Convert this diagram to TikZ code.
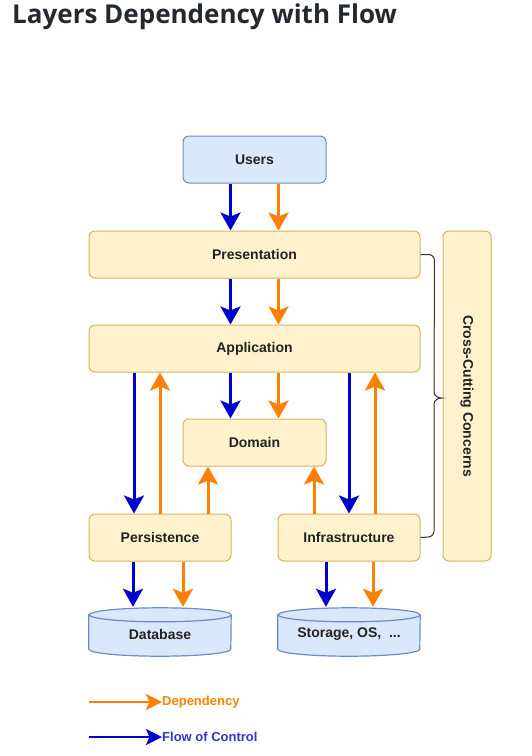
\documentclass[tikz,border=0pt]{standalone}
\usepackage{fontspec}
\setmainfont{Liberation Sans}
\newfontfamily\titlefont{Open Sans}
\usetikzlibrary{arrows.meta}
\definecolor{yfill}{HTML}{FFF2CC}
\definecolor{ydraw}{HTML}{D6B656}
\definecolor{bfill}{HTML}{DAE8FC}
\definecolor{bdraw}{HTML}{6C8EBF}
\definecolor{depcol}{HTML}{FF8000}
\definecolor{flowcol}{HTML}{0000CC}
\definecolor{flowtxt}{HTML}{3333CC}
\definecolor{txt}{HTML}{222222}
\definecolor{titlecol}{HTML}{24292F}
\begin{document}
\begin{tikzpicture}[x=1pt,y=-1pt,
  box/.style={draw=ydraw,fill=yfill,line width=1pt,rounded corners=6pt,
    inner sep=0pt,font=\fontsize{14}{16}\selectfont\bfseries,text=txt},
  userbox/.style={box,draw=bdraw,fill=bfill},
  cylslot/.style={inner sep=0pt,minimum width=142pt,minimum height=48pt},
  cyl/.style={draw=bdraw,fill=bfill,line width=1.2pt},
  dep/.style={draw=depcol,line width=3pt,-{Stealth[length=18pt,width=20pt,inset=4pt]}},
  flow/.style={draw=flowcol,line width=3pt,-{Stealth[length=18pt,width=20pt,inset=4pt]}},
  legdep/.style={draw=depcol,line width=2.5pt,-{Stealth[length=16pt,width=16pt,inset=3.5pt]}},
  legflow/.style={draw=flowcol,line width=2.5pt,-{Stealth[length=16pt,width=16pt,inset=3.5pt]}},
  brace/.style={draw=black!80,line width=1pt}]
\useasboundingbox (0,0) rectangle (531,756);

% title
\node[anchor=base west,inner sep=0pt,font=\titlefont\fontsize{26}{29}\selectfont\bfseries,text=titlecol]
  (title) at (12,23) {Layers Dependency with Flow};

% layer boxes
\node[userbox,minimum width=143pt,minimum height=47pt] (users) at (254.5,159.5) {Users};
\node[box,minimum width=331pt,minimum height=47pt] (pres) at (254.5,254.5) {Presentation};
\node[box,minimum width=331pt,minimum height=47pt] (app) at (254.5,348.5) {Application};
\node[box,minimum width=143pt,minimum height=47pt] (dom) at (254.5,442.5) {Domain};
\node[box,minimum width=142pt,minimum height=47pt] (pers) at (160,537.5) {Persistence};
\node[box,minimum width=142pt,minimum height=47pt] (infra) at (349,537.5) {Infrastructure};
\node[box,minimum width=48pt,minimum height=330pt] (cross) at (467,396) {};
\node[rotate=-90,inner sep=0pt,font=\fontsize{14}{16}\selectfont\bfseries,text=txt] (crosstext) at (cross.center) {Cross-Cutting Concerns};

% storage cylinders
\node[cylslot] (db) at (160,632) {};
\node[cylslot] (store) at (349,632) {};
\foreach \c in {db,store}{
  \draw[cyl] ([yshift=-7pt]\c.north west) -- ([yshift=7pt]\c.south west)
    arc[start angle=180,end angle=360,x radius=71pt,y radius=7pt]
    -- ([yshift=-7pt]\c.north east)
    arc[start angle=0,end angle=180,x radius=71pt,y radius=7pt] -- cycle;
  \draw[cyl,fill=none] ([yshift=-7pt]\c.north east)
    arc[start angle=0,end angle=-180,x radius=71pt,y radius=7pt];
}
\node[inner sep=0pt,font=\fontsize{14}{16}\selectfont\bfseries,text=txt] (dbtext) at ([yshift=-2pt]db.center) {Database};
\node[inner sep=0pt,font=\fontsize{14}{16}\selectfont\bfseries,text=txt] (storetext) at ([yshift=-2pt]store.center) {Storage, OS,~~...};

% brace grouping the layers
\coordinate (bt) at (pres.east);
\coordinate (bb) at (infra.east);
\draw[brace] (bt) -- ++(8,0) to[out=0,in=90] ++(6,6) -- (434,392)
  to[out=-90,in=180] (442,398) to[out=180,in=90] (434,404)
  -- (434,531) to[out=-90,in=0] ++(-6,6) -- (bb);

% users -> presentation -> application -> domain
\foreach \a/\b in {users/pres,pres/app,app/dom}{
  \draw[flow] ([xshift=-24pt]\a.south) -- ([xshift=-24pt]\b.north);
  \draw[dep]  ([xshift=24pt]\a.south) -- ([xshift=24pt]\b.north);
}

% application <-> persistence / infrastructure
\coordinate (p1) at ([xshift=-26pt]pers.north);
\coordinate (p2) at (pers.north);
\coordinate (p3) at ([xshift=48pt]pers.north);
\coordinate (i1) at ([xshift=-35pt]infra.north);
\coordinate (i2) at (infra.north);
\coordinate (i3) at ([xshift=26pt]infra.north);
\draw[flow] (p1 |- app.south) -- (p1);
\draw[dep] (p2) -- (p2 |- app.south);
\draw[dep] (p3) -- (p3 |- dom.south);
\draw[dep] (i1) -- (i1 |- dom.south);
\draw[flow] (i2 |- app.south) -- (i2);
\draw[dep] (i3) -- (i3 |- app.south);

% down to the storage
\draw[flow] ([xshift=-27pt]pers.south) -- ([xshift=-27pt,yshift=1pt]db.north);
\draw[dep]  ([xshift=23pt]pers.south) -- ([xshift=23pt,yshift=1pt]db.north);
\draw[flow] ([xshift=-23pt]infra.south) -- ([xshift=-23pt,yshift=1pt]store.north);
\draw[dep]  ([xshift=24pt]infra.south) -- ([xshift=24pt,yshift=1pt]store.north);

% legend
\coordinate (l1) at (89,702);
\coordinate (l2) at (89,737);
\node[anchor=west,inner sep=0pt,font=\fontsize{13}{15}\selectfont\bfseries,text=depcol] (legdeptext) at (162,702) {Dependency};
\node[anchor=west,inner sep=0pt,font=\fontsize{13}{15}\selectfont\bfseries,text=flowtxt] (legflowtext) at (162,737) {Flow of Control};
\draw[legdep] (l1) -- (legdeptext.west);
\draw[legflow] (l2) -- (legflowtext.west);
\end{tikzpicture}
\end{document}
